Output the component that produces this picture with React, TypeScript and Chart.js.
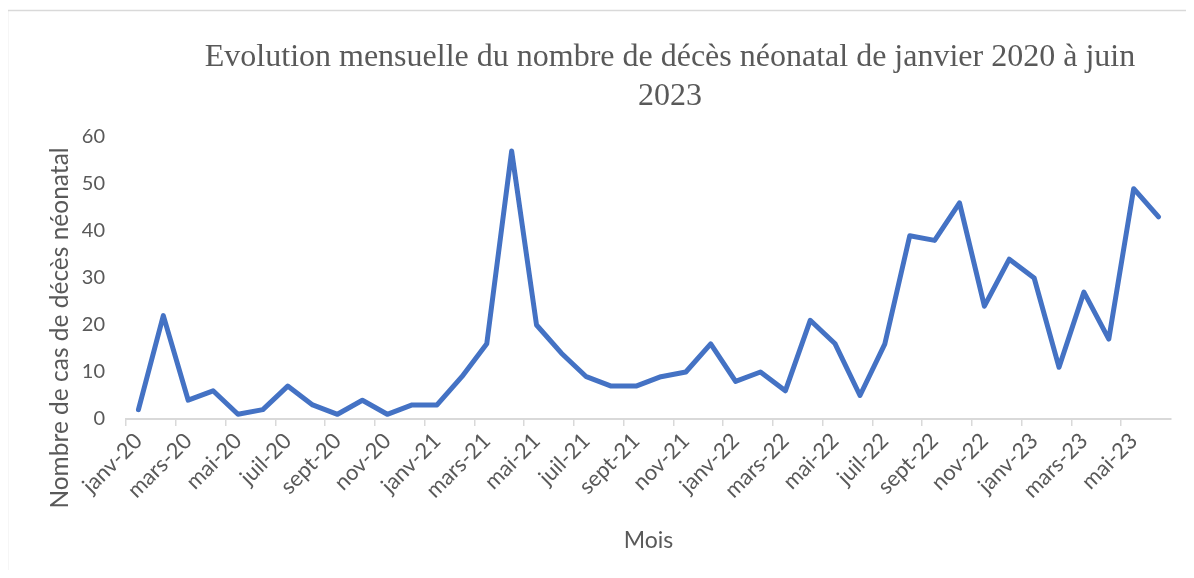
import React, { useEffect, useRef } from 'react';
import { Chart, registerables } from 'chart.js';

Chart.register(...registerables);

const months = [
  'janv-20', 'févr-20', 'mars-20', 'avr-20', 'mai-20', 'juin-20', 'juil-20', 'août-20', 'sept-20', 'oct-20', 'nov-20', 'déc-20',
  'janv-21', 'févr-21', 'mars-21', 'avr-21', 'mai-21', 'juin-21', 'juil-21', 'août-21', 'sept-21', 'oct-21', 'nov-21', 'déc-21',
  'janv-22', 'févr-22', 'mars-22', 'avr-22', 'mai-22', 'juin-22', 'juil-22', 'août-22', 'sept-22', 'oct-22', 'nov-22', 'déc-22',
  'janv-23', 'févr-23', 'mars-23', 'avr-23', 'mai-23', 'juin-23',
];

const deaths = [
  2, 22, 4, 6, 1, 2, 7, 3, 1, 4, 1, 3,
  3, 9, 16, 57, 20, 14, 9, 7, 7, 9, 10, 16,
  8, 10, 6, 21, 16, 5, 16, 39, 38, 46, 24, 34,
  30, 11, 27, 17, 49, 43,
];

const yMin = 0;
const yMax = 60;
const yStep = 10;

const titleLines = ['Evolution mensuelle du nombre de décès néonatal de janvier 2020 à juin', '2023'];
const yTitle = 'Nombre de cas de décès néonatal';
const xTitle = 'Mois';

const GREY = '#595959';
const AXIS = '#d9d9d9';
const SANS = 'Lato';

const decorations = {
  id: 'decorations',
  beforeDraw(chart: any) {
    const ctx = chart.ctx;
    ctx.save();
    ctx.fillStyle = '#ffffff';
    ctx.fillRect(0, 0, chart.width, chart.height);
    ctx.strokeStyle = AXIS;
    ctx.lineWidth = 1.5;
    ctx.strokeRect(7.5, 10.5, chart.width + 20, chart.height + 20);
    ctx.restore();
  },
  afterDraw(chart: any) {
    const ctx = chart.ctx;
    ctx.save();
    ctx.fillStyle = GREY;
    ctx.textAlign = 'center';
    ctx.textBaseline = 'alphabetic';
    ctx.font = '32px "Liberation Serif"';
    titleLines.forEach((t, i) => ctx.fillText(t, 670, 66 + i * 39));
    ctx.translate(60, 328);
    ctx.rotate(-Math.PI / 2);
    ctx.font = `24.5px ${SANS}`;
    ctx.textBaseline = 'middle';
    ctx.fillText(yTitle, 0, 0);
    ctx.restore();
  },
};

export default function App() {
  const ref = useRef<HTMLCanvasElement>(null);

  useEffect(() => {
    if (!ref.current) return;
    const chart = new Chart(ref.current, {
      type: 'line',
      data: {
        labels: months,
        datasets: [
          {
            data: deaths,
            borderColor: '#4472C4',
            borderWidth: 5,
            pointRadius: 0,
            tension: 0,
            borderJoinStyle: 'round',
            borderCapStyle: 'round',
            fill: false,
          },
        ],
      },
      options: {
        responsive: false,
        animation: false,
        devicePixelRatio: 1,
        layout: { padding: { top: 137, right: 23, left: 0, bottom: 0 } },
        plugins: {
          legend: { display: false },
          title: { display: false },
          tooltip: { enabled: false },
        },
        scales: {
          x: {
            type: 'category',
            offset: true,
            grid: {
              offset: true,
              drawOnChartArea: false,
              drawTicks: true,
              tickLength: 7,
              lineWidth: 1.5,
              color: (c: any) => (c.index % 2 === 0 ? AXIS : 'rgba(0,0,0,0)'),
            },
            border: { display: true, color: AXIS, width: 2 },
            ticks: {
              autoSkip: false,
              minRotation: 45,
              maxRotation: 45,
              padding: 2,
              color: GREY,
              font: { family: SANS, size: 22 },
              callback: (_v: any, i: number) => (i % 2 === 0 ? months[i] : ''),
            },
            title: {
              display: true,
              text: xTitle,
              color: GREY,
              font: { family: SANS, size: 23 },
              padding: { top: 0, bottom: 24 },
            },
            afterFit: (s: any) => {
              s.height = 159;
            },
          },
          y: {
            min: yMin,
            max: yMax,
            grid: { display: false, drawTicks: false },
            border: { display: false },
            ticks: {
              stepSize: yStep,
              padding: 21,
              color: GREY,
              font: { family: SANS, size: 20 },
            },
            afterFit: (s: any) => {
              s.width = 126;
            },
          },
        },
      },
      plugins: [decorations],
    } as any);
    return () => chart.destroy();
  }, []);

  return (
    <div style={{ margin: -8, width: 1194, height: 578 }}>
      <canvas ref={ref} width={1194} height={578} style={{ display: 'block' }} />
    </div>
  );
}
